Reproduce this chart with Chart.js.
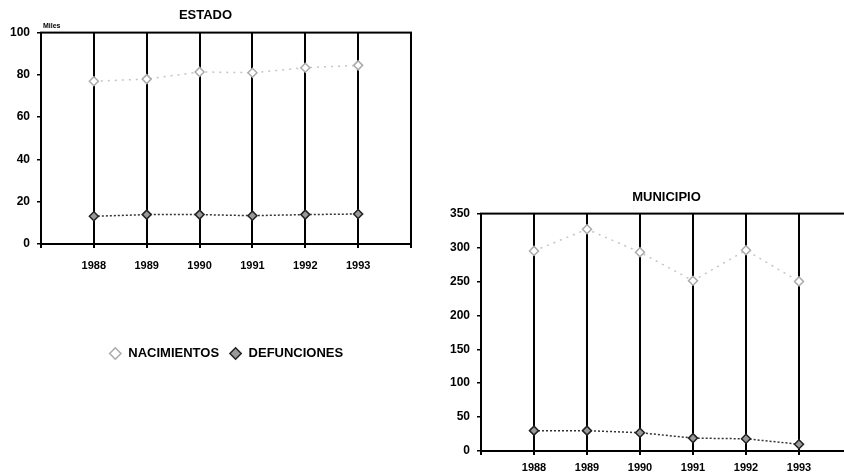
<!DOCTYPE html>
<html>
<head>
<meta charset="utf-8">
<script src="https://cdn.jsdelivr.net/npm/chart.js@4/dist/chart.umd.min.js"></script>
<style>
  html, body { margin: 0; padding: 0; background: #fff; overflow: hidden; }
  #wrap { position: relative; width: 844px; height: 474px; overflow: hidden; }
  #estadoBox { position: absolute; left: 0; top: 0; }
  #municipioBox { position: absolute; left: 420px; top: 180px; }
</style>
</head>
<body>
<div id="wrap">
  <div id="estadoBox"><canvas id="estadoChart" width="430" height="370"></canvas></div>
  <div id="municipioBox"><canvas id="municipioChart" width="440" height="294"></canvas></div>
</div>
<script>
// datos
const anios = [1988, 1989, 1990, 1991, 1992, 1993];

// estado (miles)
const estadoNacimientos = [77, 78, 81.4, 81, 83.4, 84.5];
const estadoDefunciones = [13.1, 13.9, 13.9, 13.4, 13.9, 14.2];
const estadoTicks = [0, 20, 40, 60, 80, 100];

// municipio
const municipioNacimientos = [295, 327, 293, 251, 296, 250];
const municipioDefunciones = [30, 30, 27, 19, 18, 10];
const municipioTicks = [0, 50, 100, 150, 200, 250, 300, 350];

const fuente = "'Liberation Sans', Arial, sans-serif";

// marco negro alrededor del area del grafico
const marco = {
  id: "marco",
  afterDatasetsDraw(chart) {
    const a = chart.chartArea;
    const ctx = chart.ctx;
    ctx.save();
    ctx.strokeStyle = "#000";
    ctx.lineWidth = 2;
    ctx.strokeRect(a.left, a.top, a.right - a.left, a.bottom - a.top);
    ctx.restore();
  }
};

// etiqueta "Miles" arriba del eje
const miles = {
  id: "miles",
  afterDraw(chart) {
    const a = chart.chartArea;
    const ctx = chart.ctx;
    ctx.save();
    ctx.fillStyle = "#000";
    ctx.font = "bold 7px " + fuente;
    ctx.textBaseline = "bottom";
    ctx.fillText("Miles", a.left + 2, a.top - 3);
    ctx.restore();
  }
};

function serie(label, valores, oscuro) {
  return {
    label,
    data: anios.map((a, i) => ({ x: a, y: valores[i] })),
    borderColor: oscuro ? "#333" : "#c4c4c4",
    borderWidth: 1.5,
    borderDash: oscuro ? [2, 2] : [2, 5],
    pointStyle: "rectRot",
    pointRadius: 4.5,
    pointBorderWidth: 1.5,
    pointBorderColor: oscuro ? "#222" : "#aaa",
    pointBackgroundColor: oscuro ? "#999" : "#fff",
    fill: false,
    tension: 0
  };
}

function configurar(titulo, nac, def, ticksY, opts) {
  const maxY = ticksY[ticksY.length - 1];
  return {
    type: "line",
    data: {
      datasets: [
        serie("NACIMIENTOS", nac, false),
        serie("DEFUNCIONES", def, true)
      ]
    },
    options: {
      responsive: false,
      animation: false,
      devicePixelRatio: 1,
      layout: { padding: opts.padding },
      plugins: {
        title: {
          display: true,
          text: titulo,
          color: "#000",
          fullSize: opts.titleFull,
          font: { family: fuente, size: 13, weight: "bold" },
          padding: opts.titlePad
        },
        legend: opts.legend,
        tooltip: { enabled: false }
      },
      scales: {
        x: {
          type: "linear",
          min: anios[0] - 1,
          max: anios[anios.length - 1] + 1,
          afterBuildTicks(scale) {
            scale.ticks = [anios[0] - 1, ...anios, anios[anios.length - 1] + 1].map((v) => ({ value: v }));
          },
          afterFit(scale) { scale.height = opts.xHeight; },
          ticks: {
            color: "#000",
            font: { family: fuente, size: 11, weight: "bold" },
            padding: opts.xPad,
            maxRotation: 0,
            autoSkip: false,
            callback: (v) => (anios.includes(v) ? String(v) : "")
          },
          grid: { color: "#000", lineWidth: 2, tickLength: 4, drawTicks: true },
          border: { color: "#000", width: 2 }
        },
        y: {
          min: 0,
          max: maxY,
          afterBuildTicks(scale) {
            scale.ticks = ticksY.map((v) => ({ value: v }));
          },
          afterFit(scale) { scale.width = opts.yWidth; },
          ticks: {
            color: "#000",
            font: { family: fuente, size: 12, weight: "bold" },
            padding: 7
          },
          grid: { drawOnChartArea: false, color: "#000", lineWidth: 1.5, tickLength: 4 },
          border: { color: "#000", width: 2 }
        }
      }
    },
    plugins: opts.extra
  };
}

new Chart(document.getElementById("estadoChart").getContext("2d"), configurar(
  "ESTADO", estadoNacimientos, estadoDefunciones, estadoTicks, {
    padding: { left: 0, right: 19, top: 0, bottom: 0 },
    titleFull: true,
    titlePad: { top: 8, bottom: 9 },
    xHeight: 93,
    xPad: 11,
    yWidth: 41,
    legend: {
      display: true,
      position: "bottom",
      fullSize: false,
      labels: {
        usePointStyle: true,
        color: "#000",
        boxHeight: 8,
        padding: 10,
        font: { family: fuente, size: 13, weight: "bold" }
      }
    },
    extra: [marco, miles]
  }
));

new Chart(document.getElementById("municipioChart").getContext("2d"), configurar(
  "MUNICIPIO", municipioNacimientos, municipioDefunciones, municipioTicks, {
    padding: { left: 0, right: 8, top: 0, bottom: 0 },
    titleFull: false,
    titlePad: { top: 10, bottom: 8 },
    xHeight: 23,
    xPad: 6,
    yWidth: 61,
    legend: { display: false },
    extra: [marco]
  }
));
</script>
</body>
</html>
